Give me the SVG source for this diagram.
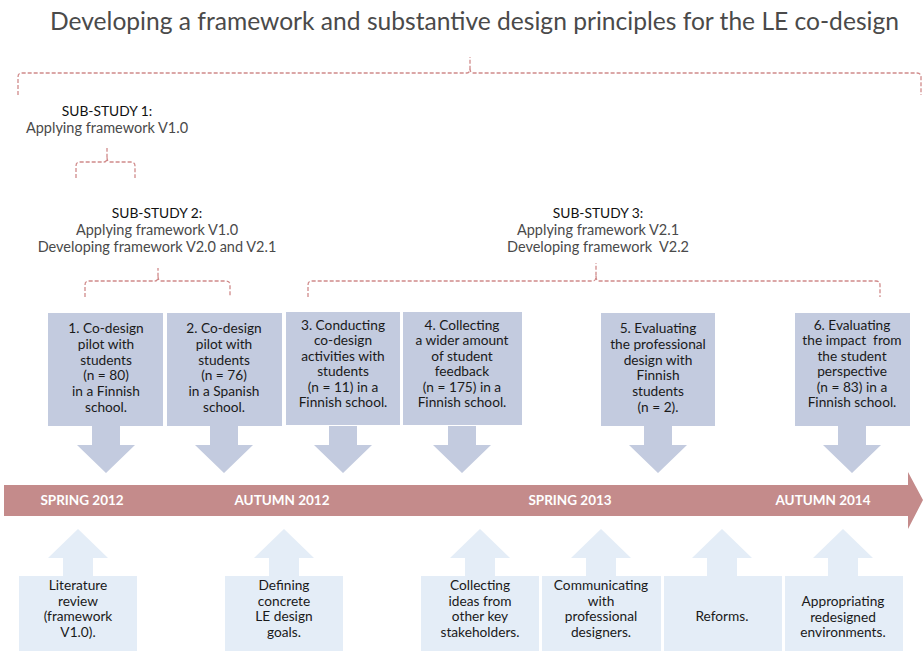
<svg xmlns="http://www.w3.org/2000/svg" width="923" height="651" viewBox="0 0 923 651">
  <style>
    .title { font-family: Lato, "Open Sans", sans-serif; font-size: 24.6px; fill: #4a4a4a; }
    .head { font-family: Lato, "Open Sans", sans-serif; font-size: 13.8px; fill: #111; text-anchor: middle; }
    .sub { font-family: Lato, "Open Sans", sans-serif; font-size: 14.5px; fill: #4a4a4a; text-anchor: middle; }
    .brace { fill: none; stroke: #d08a8a; stroke-width: 1.3; stroke-dasharray: 4 2; }
    .step { fill: #c3cbdf; }
    .input { fill: #e4edf7; }
    .label { font-family: Lato, "Open Sans", sans-serif; font-size: 13.7px; fill: #1a1a1a; text-anchor: middle; }
    .time { fill: #c48b8b; }
    .date { font-family: Lato, "Open Sans", sans-serif; font-size: 13.5px; font-weight: bold; fill: #ffffff; text-anchor: middle; }
  </style>
  <defs>
    <!-- downward arrow under a study step, centred on x=0, starting at the box bottom -->
    <path id="down" d="M-14,426 V445 H-29 L0,473 L29,445 H14 V426 Z"/>
    <!-- upward arrow above an input box, centred on x=0 -->
    <path id="up" d="M-15,576 V558 H-30 L0,529 L30,558 H15 V576 Z"/>
  </defs>

  <text class="title" x="50" y="30">Developing a framework and substantive design principles for the LE co-design</text>

  <!-- sub-study headings -->
  <g id="substudy1">
    <text class="head" x="107" y="116">SUB-STUDY 1:</text>
    <text class="sub" x="107" y="133">Applying framework V1.0</text>
  </g>
  <g id="substudy2">
    <text class="head" x="157" y="218">SUB-STUDY 2:</text>
    <text class="sub" x="157" y="235">Applying framework V1.0</text>
    <text class="sub" x="157" y="252">Developing framework V2.0 and V2.1</text>
  </g>
  <g id="substudy3">
    <text class="head" x="598" y="218">SUB-STUDY 3:</text>
    <text class="sub" x="598" y="235">Applying framework V2.1</text>
    <text class="sub" x="598" y="252" xml:space="preserve">Developing framework  V2.2</text>
  </g>

  <!-- dashed braces grouping the steps -->
  <g id="connectors">
    <path class="brace" d="M18,95 V77 Q18,73 22,73 H467 Q470,73 470,68 V57 M470,68 Q470,73 473,73 H917 Q921,73 921,77 V95"/>
    <path class="brace" d="M76,178 V166 Q76,162 80,162 H104 Q107,162 107,157 V148 M107,157 Q107,162 110,162 H131 Q135,162 135,166 V178"/>
    <path class="brace" d="M85,297 V285 Q85,281 89,281 H155 Q158,281 158,276 V268 M158,276 Q158,281 161,281 H226 Q230,281 230,285 V297"/>
    <path class="brace" d="M308,297 V285 Q308,281 312,281 H593 Q596,281 596,276 V263 M596,276 Q596,281 599,281 H876 Q880,281 880,285 V297"/>
  </g>

  <!-- timeline -->
  <g id="timeline">
    <path class="time" d="M4,485 H908 V472 L923,500 L908,529 V516 H4 Z"/>
    <text class="date" x="82" y="505">SPRING 2012</text>
    <text class="date" x="282" y="505">AUTUMN 2012</text>
    <text class="date" x="570" y="505">SPRING 2013</text>
    <text class="date" x="823" y="505">AUTUMN 2014</text>
  </g>

  <!-- study steps above the timeline -->
  <g id="step1">
    <rect class="step" x="48" y="313" width="115" height="113"/>
    <use href="#down" class="step" x="106"/>
    <text class="label" y="333"><tspan x="106">1. Co-design</tspan><tspan x="106" dy="15.8">pilot with</tspan><tspan x="106" dy="15.8">students</tspan><tspan x="106" dy="15.8">(n = 80)</tspan><tspan x="106" dy="15.8">in a Finnish</tspan><tspan x="106" dy="15.8">school.</tspan></text>
  </g>
  <g id="step2">
    <rect class="step" x="167" y="313" width="115" height="113"/>
    <use href="#down" class="step" x="224"/>
    <text class="label" y="333"><tspan x="224">2. Co-design</tspan><tspan x="224" dy="15.8">pilot with</tspan><tspan x="224" dy="15.8">students</tspan><tspan x="224" dy="15.8">(n = 76)</tspan><tspan x="224" dy="15.8">in a Spanish</tspan><tspan x="224" dy="15.8">school.</tspan></text>
  </g>
  <g id="step3">
    <rect class="step" x="286" y="312" width="114" height="113"/>
    <use href="#down" class="step" x="343"/>
    <text class="label" y="330"><tspan x="343">3. Conducting</tspan><tspan x="343" dy="15.4">co-design</tspan><tspan x="343" dy="15.4">activities with</tspan><tspan x="343" dy="15.4">students</tspan><tspan x="343" dy="15.4">(n = 11) in a</tspan><tspan x="343" dy="15.4">Finnish school.</tspan></text>
  </g>
  <g id="step4">
    <rect class="step" x="403" y="312" width="119" height="113"/>
    <use href="#down" class="step" x="462"/>
    <text class="label" y="330"><tspan x="462">4. Collecting</tspan><tspan x="462" dy="15.4">a wider amount</tspan><tspan x="462" dy="15.4">of student</tspan><tspan x="462" dy="15.4">feedback</tspan><tspan x="462" dy="15.4">(n = 175) in a</tspan><tspan x="462" dy="15.4">Finnish school.</tspan></text>
  </g>
  <g id="step5">
    <rect class="step" x="601" y="313" width="114" height="113"/>
    <use href="#down" class="step" x="658"/>
    <text class="label" y="333"><tspan x="658">5. Evaluating</tspan><tspan x="658" dy="15.8">the professional</tspan><tspan x="658" dy="15.8">design with</tspan><tspan x="658" dy="15.8">Finnish</tspan><tspan x="658" dy="15.8">students</tspan><tspan x="658" dy="15.8">(n = 2).</tspan></text>
  </g>
  <g id="step6">
    <rect class="step" x="795" y="313" width="115" height="113"/>
    <use href="#down" class="step" x="852"/>
    <text class="label" y="330" xml:space="preserve"><tspan x="852">6. Evaluating</tspan><tspan x="852" dy="15.4">the impact  from</tspan><tspan x="852" dy="15.4">the student</tspan><tspan x="852" dy="15.4">perspective</tspan><tspan x="852" dy="15.4">(n = 83) in a</tspan><tspan x="852" dy="15.4">Finnish school.</tspan></text>
  </g>

  <!-- contributing activities below the timeline -->
  <g id="input1">
    <rect class="input" x="19" y="576" width="118" height="75"/>
    <use href="#up" class="input" x="78"/>
    <text class="label" y="590"><tspan x="78">Literature</tspan><tspan x="78" dy="15.6">review</tspan><tspan x="78" dy="15.6">(framework</tspan><tspan x="78" dy="15.6">V1.0).</tspan></text>
  </g>
  <g id="input2">
    <rect class="input" x="225" y="576" width="118" height="75"/>
    <use href="#up" class="input" x="284"/>
    <text class="label" y="590"><tspan x="284">Defining</tspan><tspan x="284" dy="15.6">concrete</tspan><tspan x="284" dy="15.6">LE design</tspan><tspan x="284" dy="15.6">goals.</tspan></text>
  </g>
  <g id="input3">
    <rect class="input" x="421" y="576" width="118" height="75"/>
    <use href="#up" class="input" x="480"/>
    <text class="label" y="590"><tspan x="480">Collecting</tspan><tspan x="480" dy="15.6">ideas from</tspan><tspan x="480" dy="15.6">other key</tspan><tspan x="480" dy="15.6">stakeholders.</tspan></text>
  </g>
  <g id="input4">
    <rect class="input" x="542" y="576" width="119" height="75"/>
    <use href="#up" class="input" x="601"/>
    <text class="label" y="590"><tspan x="601">Communicating</tspan><tspan x="601" dy="15.6">with</tspan><tspan x="601" dy="15.6">professional</tspan><tspan x="601" dy="15.6">designers.</tspan></text>
  </g>
  <g id="input5">
    <rect class="input" x="664" y="576" width="118" height="75"/>
    <use href="#up" class="input" x="722"/>
    <text class="label" x="722" y="621">Reforms.</text>
  </g>
  <g id="input6">
    <rect class="input" x="785" y="576" width="118" height="75"/>
    <use href="#up" class="input" x="843"/>
    <text class="label" y="606"><tspan x="843">Appropriating</tspan><tspan x="843" dy="15.6">redesigned</tspan><tspan x="843" dy="15.6">environments.</tspan></text>
  </g>
</svg>
